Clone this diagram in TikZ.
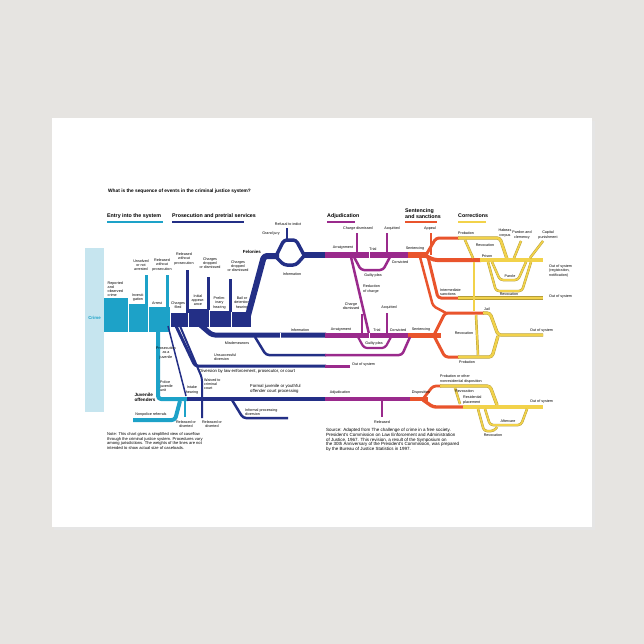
\documentclass[tikz,border=0pt]{standalone}
\usepackage{fontspec}
\setmainfont{Liberation Sans}
\usetikzlibrary{arrows.meta}
\definecolor{bgc}{HTML}{E6E4E1}
\definecolor{crimec}{HTML}{C6E5EF}
\definecolor{tealc}{HTML}{1DA2C8}
\definecolor{navyc}{HTML}{232F86}
\definecolor{purc}{HTML}{9A2A8C}
\definecolor{orc}{HTML}{E9542C}
\definecolor{yelc}{HTML}{F2D24A}
\definecolor{yeldk}{HTML}{B59E3A}
\begin{document}
\begin{tikzpicture}[x=1pt,y=-1pt,line join=round,
  lab/.style={font=\fontsize{3.7}{4.1}\selectfont, inner sep=0pt, align=center},
  labw/.style={lab, anchor=west, align=left},
  labb/.style={labw, font=\fontsize{4.3}{4.8}\selectfont},
  hdr/.style={font=\bfseries\fontsize{5.3}{5.8}\selectfont, inner sep=0pt, anchor=west, align=left},
  tl/.style={draw=tealc, line width=#1},
  nv/.style={draw=navyc, line width=#1},
  pu/.style={draw=purc, line width=#1},
  og/.style={draw=orc, line width=#1},
  yl/.style={draw=yelc, line width=#1, preaction={draw=yeldk, line width=#1+0.9}},
  rc/.style={rounded corners=3pt}]
\useasboundingbox (0,0) rectangle (644,644);
\fill[bgc] (0,0) rectangle (644,644);
\fill[black!10] (54,121) rectangle (595,530);
\fill[white] (52,118) rectangle (592,527);

% ---------- title and legend
\node[hdr, font=\bfseries\fontsize{4.8}{5.5}\selectfont] (title) at (108,191) {What is the sequence of events in the criminal justice system?};
\node[hdr] (hEntry) at (107,216) {Entry into the system};
\node[hdr] (hPros) at (172,216) {Prosecution and pretrial services};
\node[hdr] (hAdj) at (327,216) {Adjudication};
\node[hdr] (hSent) at (405,213.5) {Sentencing\\and sanctions};
\node[hdr] (hCorr) at (458,216) {Corrections};
\draw[tl=1.8] (107,222) -- (163,222);
\draw[nv=1.8] (172,222) -- (244,222);
\draw[pu=1.8] (327,222) -- (355,222);
\draw[og=1.8] (405,222) -- (437,222);
\draw[yl=1.4] (458,222) -- (486,222);

% ---------- crime and entry
\fill[crimec] (85,248) rectangle (104,412);
\node[font=\bfseries\fontsize{4.4}{5}\selectfont, text=tealc, inner sep=0pt] (crime) at (94.5,318) {Crime};
\fill[tealc] (104,298) rectangle (128,332);
\fill[tealc] (129,304) rectangle (148,332);
\fill[tealc] (149,307) rectangle (170,332);
\draw[tl=3] (146,305) -- (146,275);
\draw[tl=3] (167,308) -- (167,275);

% ---------- prosecution block
\fill[navyc] (171,313) rectangle (188,327);
\fill[navyc] (189,309) rectangle (209,327);
\fill[navyc] (210,311) rectangle (231,327);
\fill[navyc] (232,312) rectangle (251,327);
\draw[nv=3] (187,313) -- (187,270);
\draw[nv=3] (208,310) -- (208,277);
\draw[nv=3] (230,312) -- (230,279);

% labels entry/prosecution
\node[labw] (lRep) at (107.5,289) {Reported\\and\\observed\\crime};
\node[lab] (lInv) at (138,297.5) {Investi-\\gation};
\node[lab] (lArr) at (157,303) {Arrest};
\node[lab] (lChf) at (178,305) {Charges\\filed};
\node[lab] (lIni) at (198,300) {Initial\\appear-\\ance};
\node[lab] (lPre) at (219.5,303) {Prelim-\\inary\\hearing};
\node[lab] (lBail) at (242,303) {Bail or\\detention\\hearing};
\node[lab] (lUns) at (141,265) {Unsolved\\or not\\arrested};
\node[lab] (lRw1) at (162,265) {Released\\without\\prosecution};
\node[lab] (lRw2) at (184,259) {Released\\without\\prosecution};
\node[lab] (lCd1) at (210,263) {Charges\\dropped\\or dismissed};
\node[lab] (lCd2) at (238,266) {Charges\\dropped\\or dismissed};

% ---------- felonies
\draw[nv=6, rc] (246,323) -- (264,256) -- (279,256);
\draw[nv=3.5, rc] (276,256) -- (284,240) -- (296,240) -- (304,255);
\draw[nv=3.5, rc] (276,257) -- (284,265) -- (296,265) -- (304,256);
\draw[nv=2.5] (287,241) -- (287,228);
\draw[nv=6] (302,255) -- (326,255);
\node[lab] (lRef) at (288,224) {Refusal to indict};
\node[lab] (lGj) at (271,234) {Grand jury};
\node[font=\bfseries\fontsize{4.4}{5}\selectfont, anchor=east, inner sep=0pt] (lFel) at (261,252) {Felonies};
\node[lab] (lInf1) at (292,274) {Information};

\draw[pu=6] (325,255) -- (410,255);
\draw[white, line width=0.5] (369,252) -- (369,258);
\draw[pu=2.5] (357,253) -- (357,233);
\draw[pu=2.5] (387,253) -- (387,233);
\draw[pu=2.5, rc] (354,257) -- (361,270) -- (383,270) -- (390,257);
\draw[pu=2.5] (351,257) -- (369,334);
\node[lab] (lCdis1) at (358,229) {Charge dismissed};
\node[lab] (lAcq1) at (392,229) {Acquitted};
\node[lab] (lArg1) at (343,248) {Arraignment};
\node[lab] (lTr1) at (373,249) {Trial};
\node[lab] (lSen1) at (415,249) {Sentencing};
\node[lab] (lCon1) at (400,262) {Convicted};
\node[lab] (lGp1) at (373,276) {Guilty plea};
\node[labw] (lRed) at (363,289) {Reduction\\of charge};
\node[lab] (lApp) at (430,229) {Appeal};

% felony sentencing
\draw[og=6] (408,255) -- (428,255);
\draw[og=2.5] (431,255) -- (431,233);
\draw[og=3, rc] (426,255) -- (436,238) -- (459,238);
\draw[yl=2.4, rc] (458,238) -- (500,238) -- (507,259);
\draw[og=4, rc] (426,256) -- (434,260) -- (481,260);
\draw[yl=3.4] (480,260) -- (543,260);
\draw[og=3, rc] (428,257) -- (438,298) -- (459,298);
\draw[yl=2.6] (458,298) -- (543,298);
\draw[og=2.5, rc] (420,257) -- (433,306) -- (446,313);

% ---------- misdemeanors
\draw[nv=5, rc] (198,323) -- (212,335) -- (326,335);
\draw[white, line width=0.5] (280,332.5) -- (280,337.5);
\draw[pu=5] (325,335) -- (410,335);
\draw[white, line width=0.5] (369,332.5) -- (369,337.5);
\draw[pu=2.5] (362,333) -- (362,314);
\draw[pu=2.5] (387,333) -- (387,313);
\draw[pu=2.2, rc] (358,337) -- (364,348) -- (385,348) -- (391,337);
\draw[og=5] (408,335) -- (441,335);
\draw[og=3, rc] (434,335) -- (445,313) -- (484,313);
\draw[og=3, rc] (434,336) -- (445,357) -- (459,357);
\draw[yl=2.4, rc] (483,313) -- (490,313) -- (498,335) -- (543,335);
\draw[yl=2.4, rc] (458,357) -- (492,357) -- (498,336);
\node[lab] (lInf2) at (300,330) {Information};
\node[lab] (lMis) at (237,343) {Misdemeanors};
\node[lab] (lArg2) at (341,330) {Arraignment};
\node[lab] (lTr2) at (377,330) {Trial};
\node[lab] (lCon2) at (398,330) {Convicted};
\node[lab] (lSen2) at (421,330) {Sentencing};
\node[lab] (lGp2) at (374,344) {Guilty plea};
\node[lab] (lCdis2) at (351,306) {Charge\\dismissed};
\node[lab] (lAcq2) at (389,308) {Acquitted};

% unsuccessful diversion / diversion
\draw[nv=2.5, rc] (255,337) -- (266,355) -- (326,355);
\draw[pu=2.5, rc] (325,355) -- (402,355) -- (410,337);
\draw[nv=3, rc] (176,326) -- (195,366) -- (326,366);
\draw[pu=3] (325,366) -- (350,366);
\node[labw] (lUnsd) at (214,357) {Unsuccessful\\diversion};
\node[labb] (lDiv) at (199,371.5) {Diversion by law enforcement, prosecutor, or court};
\node[labw] (lOut0) at (352,365) {Out of system};

% ---------- corrections (upper)
\draw[yl=1.6] (465,240) -- (473,258);
\draw[yl=1.6] (474,262) -- (474,311);
\draw[yl=1.6] (478,355) -- (476,315);
\draw[yl=1.6, rc] (492,262) -- (500,280) -- (518,280) -- (526,262);
\draw[yl=1.6, rc] (488,262) -- (496,291) -- (522,291) -- (531,262);
\draw[yl=1.6] (521,241) -- (514,258);
\draw[yl=1.6] (543,241) -- (530,258);
\node[lab] (lProb1) at (466,233) {Probation};
\node[lab] (lHab) at (505,233) {Habeas\\corpus};
\node[lab] (lPar) at (522,235) {Pardon and\\clemency};
\node[lab] (lCap) at (548,235) {Capital\\punishment};
\node[lab] (lRev1) at (485,245) {Revocation};
\node[lab] (lPri) at (487,256) {Prison};
\node[labw] (lOutR) at (549,271) {Out of system\\(registration,\\notification)};
\node[lab] (lParo) at (510,276) {Parole};
\node[lab] (lRev2) at (509,294.5) {Revocation};
\node[labw] (lInt) at (440,292) {Intermediate\\sanctions};
\node[labw] (lOut1) at (549,297) {Out of system};
\node[lab] (lJail) at (487,309) {Jail};
\node[lab] (lRev3) at (464,333) {Revocation};
\node[labw] (lOut2) at (530,331) {Out of system};
\node[lab] (lProb2) at (467,362) {Probation};

% ---------- juvenile
\draw[tl=4, rc] (158,332) -- (158,399) -- (188,399);
\draw[nv=4] (187,399) -- (326,399);
\draw[pu=4] (325,399) -- (412,399);
\draw[og=4] (410,399) -- (428,399);
\draw[og=2.8, rc] (423,399) -- (433,386) -- (441,386);
\draw[og=3.4, rc] (423,400) -- (433,407) -- (464,407);
\draw[yl=2.4, rc] (440,386) -- (490,386) -- (497,405);
\draw[yl=3.2] (463,407) -- (543,407);
\draw[yl=1.6] (455,388) -- (460,404);
\draw[yl=1.6, rc] (485,409) -- (490,425) -- (521,425) -- (527,409);
\draw[yl=1.6, rc] (478,409) -- (484,431) -- (494,431) -- (497,427);
\draw[tl=4, rc] (133,420) -- (175,420) -- (180,401);
\draw[tl=2.5] (185,401) -- (185,417);
\draw[nv=2, rc] (180,326) -- (202,378) -- (202,418);
\draw[nv=1.5] (168,326) -- (186,396);
\draw[nv=2.5, rc] (232,400) -- (243,418) -- (288,418);
\draw[pu=2.5] (382,400) -- (382,417);
\node[lab] (lPaj) at (166,353) {Prosecution\\as a\\juvenile};
\node[labw] (lPju) at (160,386) {Police\\juvenile\\unit};
\node[font=\bfseries\fontsize{4.6}{5}\selectfont, inner sep=0pt, align=left] (lJuv) at (145,397) {Juvenile\\offenders};
\node[lab] (lNon) at (151,415) {Nonpolice referrals};
\node[lab] (lInt2) at (192,390) {Intake\\hearing};
\node[labw] (lWai) at (204,384) {Waived to\\criminal\\court};
\node[lab] (lRd1) at (186,424) {Released or\\diverted};
\node[lab] (lRd2) at (212,424) {Released or\\diverted};
\node[labb] (lFor) at (250,388.5) {Formal juvenile or youthful\\offender court processing};
\node[labw] (lInf) at (245,412) {Informal processing\\diversion};
\node[lab] (lAdj) at (340,393) {Adjudication};
\node[lab] (lDis) at (421,393) {Disposition};
\node[lab] (lRel) at (382,422) {Released};
\node[labw] (lPnr) at (440,379) {Probation or other\\nonresidential disposition};
\node[labw] (lRev4) at (455,391) {Revocation};
\node[labw] (lRes) at (463,400) {Residential\\placement};
\node[labw] (lOut3) at (530,402) {Out of system};
\node[lab] (lAft) at (508,421) {Aftercare};
\node[lab] (lRev5) at (493,435) {Revocation};

% ---------- notes
\node[labw, font=\fontsize{4.1}{4.5}\selectfont] (note) at (107,441) {Note: This chart gives a simplified view of caseflow\\through the criminal justice system. Procedures vary\\among jurisdictions. The weights of the lines are not\\intended to show actual size of caseloads.};
\node[labw, font=\fontsize{4.5}{4.7}\selectfont] (src) at (326,440) {Source: Adapted from The challenge of crime in a free society.\\President's Commission on Law Enforcement and Administration\\of Justice, 1967. This revision, a result of the Symposium on\\the 30th Anniversary of the President's Commission, was prepared\\by the Bureau of Justice Statistics in 1997.};
\end{tikzpicture}
\end{document}
